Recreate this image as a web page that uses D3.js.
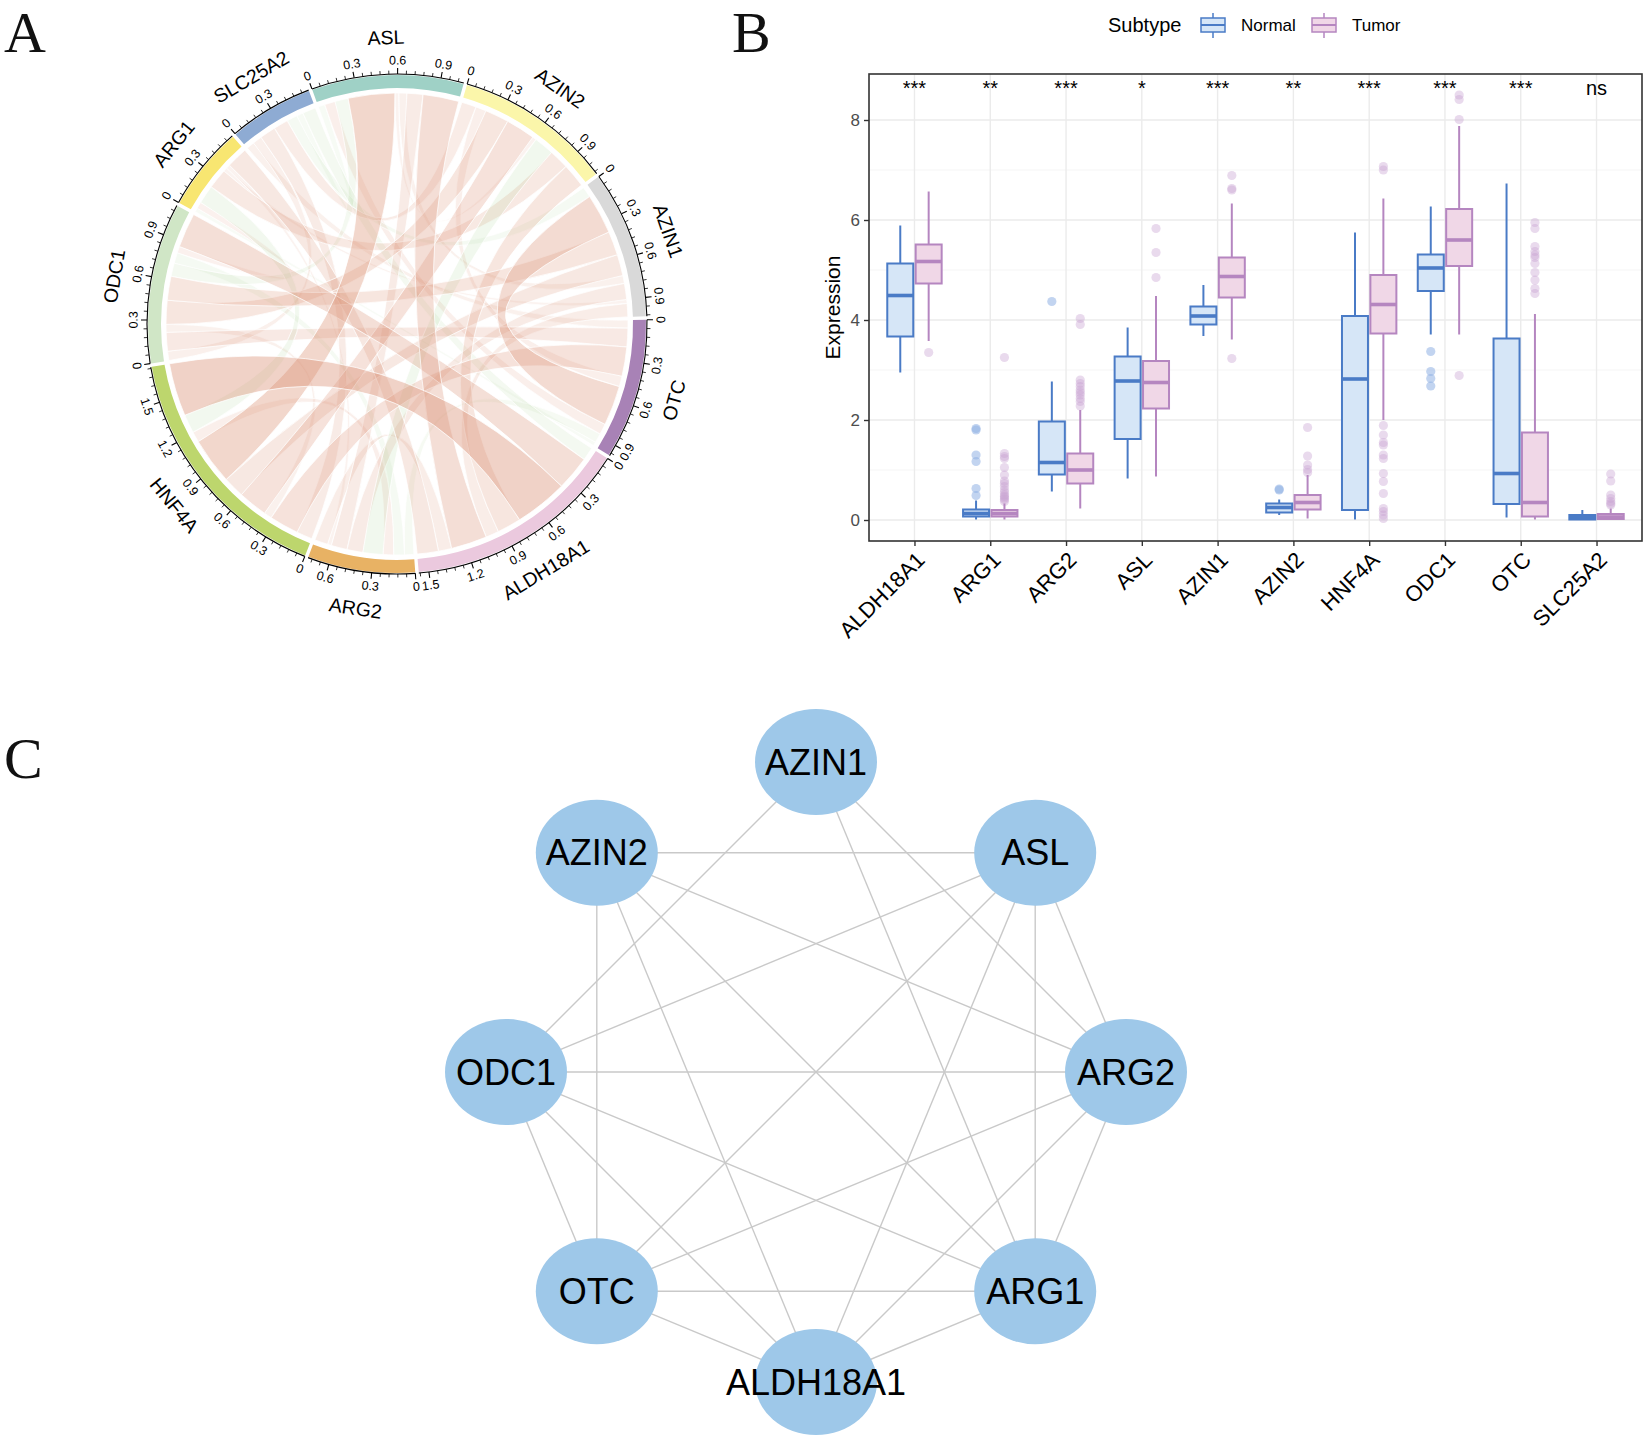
<!DOCTYPE html>
<html><head><meta charset="utf-8">
<script src="https://cdn.jsdelivr.net/npm/d3@7"></script>
<style>
body{margin:0;background:#fff}
svg{display:block}
text{font-family:"Liberation Sans",Arial,sans-serif;fill:#000}
</style></head>
<body><svg id="fig" width="1646" height="1439"></svg>
<script>
// ---------------- Panel A: chord diagram data ----------------
const chordGenes = ["ASL","AZIN2","AZIN1","OTC","ALDH18A1","ARG2","HNF4A","ODC1","ARG1","SLC25A2"];
const chordColors = ["#9fd1c6","#fbf6aa","#d9d9d9","#a882b6","#ebc9de","#e8b264","#bdd66d","#d0e6c6","#f8e671","#8eabd3"];
const linkFrom = ["ASL","ASL","ASL","ASL","ASL","ASL","ASL","ASL",
  "AZIN2","AZIN2","AZIN2","AZIN2","AZIN2","AZIN2","AZIN2",
  "AZIN1","AZIN1","AZIN1","AZIN1","AZIN1","AZIN1","AZIN1",
  "OTC","OTC","OTC","OTC","OTC",
  "ALDH18A1","ALDH18A1","ALDH18A1","ALDH18A1","ALDH18A1",
  "ARG2","ARG2","ARG2","HNF4A","HNF4A","HNF4A","ODC1","ODC1"];
const linkTo = ["HNF4A","ALDH18A1","OTC","ARG2","ODC1","AZIN1","SLC25A2","AZIN2",
  "HNF4A","ODC1","ARG1","ARG2","ALDH18A1","OTC","SLC25A2",
  "OTC","ALDH18A1","ODC1","HNF4A","ARG2","SLC25A2","ARG1",
  "HNF4A","ODC1","ARG2","SLC25A2","ARG1",
  "HNF4A","ODC1","ARG1","SLC25A2","ARG2",
  "HNF4A","ODC1","ARG1","ARG1","SLC25A2","ODC1","ARG1","SLC25A2"];
const linkCorr = [0.35,0.27,0.08,0.12,-0.10,0.06,-0.05,0.03,
  0.22,0.18,0.15,-0.15,0.18,0.08,0.11,
  0.30,0.10,0.18,0.16,0.12,-0.08,0.03,
  0.22,0.14,-0.07,0.06,-0.03,
  0.40,0.26,0.16,-0.10,0.10,
  0.08,-0.08,0.03,-0.14,0.12,0.06,0.05,0.07];

// ---------------- Panel B: boxplot data ----------------
const boxGenes = ["ALDH18A1","ARG1","ARG2","ASL","AZIN1","AZIN2","HNF4A","ODC1","OTC","SLC25A2"];
const subtypes = ["Normal","Tumor"];
// [lower whisker, Q1, median, Q3, upper whisker]
const normalStats = [[2.95,3.67,4.49,5.13,5.89],[0.01,0.07,0.13,0.21,0.39],[0.57,0.91,1.15,1.97,2.77],[0.83,1.62,2.78,3.27,3.85],[3.68,3.91,4.08,4.27,4.70],
  [0.10,0.15,0.25,0.33,0.41],[0.01,0.20,2.82,4.08,5.75],[3.71,4.58,5.04,5.31,6.27],[0.05,0.32,0.93,3.63,6.73],[0.00,0.01,0.05,0.10,0.20]];
const tumorStats = [[3.58,4.73,5.17,5.51,6.57],[0.01,0.07,0.13,0.20,0.33],[0.23,0.73,1.00,1.33,2.20],[0.87,2.23,2.75,3.18,4.48],[3.61,4.45,4.87,5.25,6.33],
  [0.03,0.21,0.35,0.50,0.90],[2.00,3.73,4.31,4.90,6.43],[3.71,5.08,5.60,6.22,7.88],[0.01,0.07,0.35,1.75,4.12],[0.00,0.02,0.06,0.12,0.23]];
const normalOutliers = [[],[1.83,1.80,1.30,1.17,0.63,0.49],[4.37],[],[],[0.62,0.60],[],[3.37,2.97,2.83,2.68],[],[]];
const tumorOutliers = [[3.35],[3.25,1.33,1.27,1.23,1.05,0.90,0.78,0.73,0.67,0.60,0.55,0.50,0.47,0.44,0.41,0.37],
  [4.03,3.91,2.80,2.73,2.67,2.60,2.55,2.50,2.43,2.37,2.28],[5.83,5.35,4.85],[6.89,6.63,6.60,3.23],[1.85,1.28,1.10,1.01,0.95],
  [7.07,7.00,1.89,1.70,1.55,1.50,1.30,1.23,0.93,0.77,0.53,0.23,0.17,0.10,0.03],[8.50,8.41,8.01,2.89],
  [5.95,5.83,5.47,5.37,5.30,5.25,5.13,4.95,4.80,4.63,4.53],[0.92,0.78,0.50,0.43,0.37,0.33,0.30]];
const signifLabels = ["***","**","***","*","***","**","***","***","***","ns"];
const yTicks = [0,2,4,6,8];

// ---------------- Panel C: network data ----------------
const netNodes = ["AZIN1","ASL","ARG2","ARG1","ALDH18A1","OTC","ODC1","AZIN2"];
const netEdges = [["AZIN1","ODC1"],["AZIN1","ARG1"],["AZIN1","ARG2"],
  ["AZIN2","ASL"],["AZIN2","OTC"],["AZIN2","ALDH18A1"],["AZIN2","ARG1"],["AZIN2","ARG2"],
  ["ASL","ODC1"],["ASL","OTC"],["ASL","ALDH18A1"],["ASL","ARG1"],["ASL","ARG2"],
  ["ODC1","ARG2"],["ODC1","OTC"],["ODC1","ALDH18A1"],["ODC1","ARG1"],
  ["ARG2","OTC"],["ARG2","ALDH18A1"],["ARG2","ARG1"],
  ["OTC","ARG1"],["OTC","ALDH18A1"],["ARG1","ALDH18A1"]];

const svg = d3.select("#fig");

// Panel letters
const letters = [["A",4,52],["B",732,52],["C",4,778]];
svg.selectAll("text.panel").data(letters).join("text").attr("class","panel")
  .attr("x",d=>d[1]).attr("y",d=>d[2]).text(d=>d[0])
  .style("font-family","'Liberation Serif','DejaVu Serif',serif").style("font-size","58px").style("fill","#111");

// ======================= Panel A =======================
(function(){
  const cx = 397, cy = 324;
  const rOut = 249, rIn = 236, rLink = 231, rAxis = 250;
  const g = svg.append("g");
  const n = chordGenes.length;
  const idx = Object.fromEntries(chordGenes.map((d,i)=>[d,i]));
  const alpha = chordGenes.slice().sort();
  const links = linkFrom.map((s,k)=>({s:idx[s], t:idx[linkTo[k]], v:linkCorr[k]}));
  const totals = new Array(n).fill(0);
  links.forEach(l=>{ totals[l.s]+=Math.abs(l.v); totals[l.t]+=Math.abs(l.v); });
  const gapDeg = 0.8;
  const unitDeg = (360 - n*gapDeg)/d3.sum(totals);
  let a = -19.9;
  const sectors = chordGenes.map((name,i)=>{ const s=a, e=a+totals[i]*unitDeg; a=e+gapDeg; return {name,i,s,e,total:totals[i]}; });
  const rad = d=>d*Math.PI/180;
  const ends = {};
  sectors.forEach(sec=>{
    const i = sec.i;
    const mine = [];
    links.forEach((l,k)=>{ if(l.s===i) mine.push({k,o:l.t}); else if(l.t===i) mine.push({k,o:l.s}); });
    mine.sort((p,q)=>alpha.indexOf(chordGenes[q.o])-alpha.indexOf(chordGenes[p.o]));
    let pos=0;
    mine.forEach(m=>{ const w=Math.abs(links[m.k].v); ends[m.k+"_"+i]=[sec.s+pos*unitDeg, sec.s+(pos+w)*unitDeg]; pos+=w; });
  });
  const ribbon = d3.ribbon().radius(rLink);
  const order = links.map((l,k)=>k).sort((p,q)=>Math.abs(links[p].v)-Math.abs(links[q].v));
  const op = d3.scaleLinear().domain([0,0.4]).range([0.08,0.4]);
  g.append("g").attr("transform",`translate(${cx},${cy})`).selectAll("path").data(order).join("path")
    .attr("d",k=>{ const l=links[k]; const se=ends[k+"_"+l.s], te=ends[k+"_"+l.t];
      const A={startAngle:rad(se[0]),endAngle:rad(se[1])}, B={startAngle:rad(te[0]),endAngle:rad(te[1])};
      return se[0]<te[0] ? ribbon({source:A,target:B}) : ribbon({source:B,target:A}); })
    .attr("fill",k=>links[k].v>0?"#da8f72":"#a9d394")
    .attr("fill-opacity",k=>links[k].v>0?op(Math.abs(links[k].v)):op(Math.abs(links[k].v))*0.8)
    .attr("stroke","#fff").attr("stroke-width",1).attr("stroke-opacity",0.75);

  const arc = d3.arc().innerRadius(rIn).outerRadius(rOut);
  g.append("g").attr("transform",`translate(${cx},${cy})`).selectAll("path").data(sectors).join("path")
    .attr("d",d=>arc({startAngle:rad(d.s),endAngle:rad(d.e)})).attr("fill",(d,i)=>chordColors[i]);

  const pol = (r,deg)=>[cx + r*Math.sin(rad(deg)), cy - r*Math.cos(rad(deg))];
  const rotOf = deg=>{ const t=((deg%360)+360)%360; return (t>90&&t<270)? t-180 : t; };
  const axG = g.append("g");
  sectors.forEach(sec=>{
    const p = d3.path(); p.arc(cx,cy,rAxis,rad(sec.s)-Math.PI/2,rad(sec.e)-Math.PI/2);
    axG.append("path").attr("d",p.toString()).attr("fill","none").attr("stroke","#000").attr("stroke-width",1.1);
    const scale = d3.scaleLinear().domain([0,sec.total]).range([sec.s,sec.e]);
    const tv = d3.range(0, sec.total+1e-6, 0.06);
    tv.forEach((v,j)=>{
      const major = j%5===0;
      const [x1,y1]=pol(rAxis,scale(v)), [x2,y2]=pol(rAxis+(major?6:3.5),scale(v));
      axG.append("line").attr("x1",x1).attr("y1",y1).attr("x2",x2).attr("y2",y2).attr("stroke","#000").attr("stroke-width",major?1.1:0.8);
      if(major){
        const [tx,ty]=pol(rAxis+13.5,scale(v));
        axG.append("text").attr("transform",`translate(${tx},${ty}) rotate(${rotOf(scale(v))})`)
          .attr("text-anchor","middle").attr("dominant-baseline","central").style("font-size","12.5px")
          .text(String(Math.round(v*10)/10));
      }
    });
    const mid=(sec.s+sec.e)/2; const [lx,ly]=pol(287,mid);
    axG.append("text").attr("transform",`translate(${lx},${ly}) rotate(${rotOf(mid)})`)
      .attr("text-anchor","middle").attr("dominant-baseline","central").style("font-size","19.5px").text(sec.name);
  });
})();

// ======================= Panel B =======================
(function(){
  const L=869, R=1642, T=74, B=541;
  const g = svg.append("g");
  const x = d3.scalePoint().domain(boxGenes).range([L,R]).padding(0.6);
  const y = d3.scaleLinear().domain([-0.42,8.92]).range([B,T]);
  g.append("g").selectAll("line").data([1,3,5,7]).join("line")
    .attr("x1",L).attr("x2",R).attr("y1",d=>y(d)).attr("y2",d=>y(d)).attr("stroke","#f2f2f2").attr("stroke-width",0.8);
  g.append("g").selectAll("line").data(yTicks).join("line")
    .attr("x1",L).attr("x2",R).attr("y1",d=>y(d)).attr("y2",d=>y(d)).attr("stroke","#ebebeb").attr("stroke-width",1.4);
  g.append("g").selectAll("line").data(boxGenes).join("line")
    .attr("x1",d=>x(d)).attr("x2",d=>x(d)).attr("y1",T).attr("y2",B).attr("stroke","#ebebeb").attr("stroke-width",1.4);

  const boxW=26, dodge=14.2;
  const groups=[
    {stats:normalStats,out:normalOutliers,off:-dodge,stroke:"#4a7bc6",fill:"#d6e6f7",ofill:"#90b0e4",oop:0.55},
    {stats:tumorStats,out:tumorOutliers,off:dodge,stroke:"#b586c0",fill:"#f0d7e7",ofill:"#c7a2d3",oop:0.4}];
  groups.forEach(gr=>{
    const gg=g.append("g");
    boxGenes.forEach((gene,i)=>{
      const cxp=x(gene)+gr.off; const s=gr.stats[i];
      gg.selectAll(null).data(gr.out[i]).join("circle").attr("cx",cxp).attr("cy",d=>y(d)).attr("r",4.6)
        .attr("fill",gr.ofill).attr("fill-opacity",gr.oop);
      gg.append("line").attr("x1",cxp).attr("x2",cxp).attr("y1",y(s[4])).attr("y2",y(s[3])).attr("stroke",gr.stroke).attr("stroke-width",2);
      gg.append("line").attr("x1",cxp).attr("x2",cxp).attr("y1",y(s[1])).attr("y2",y(s[0])).attr("stroke",gr.stroke).attr("stroke-width",2);
      gg.append("rect").attr("x",cxp-boxW/2).attr("width",boxW).attr("y",y(s[3])).attr("height",Math.max(0.5,y(s[1])-y(s[3])))
        .attr("fill",gr.fill).attr("stroke",gr.stroke).attr("stroke-width",2);
      gg.append("line").attr("x1",cxp-boxW/2).attr("x2",cxp+boxW/2).attr("y1",y(s[2])).attr("y2",y(s[2])).attr("stroke",gr.stroke).attr("stroke-width",3.6);
    });
  });
  g.append("g").selectAll("text").data(boxGenes).join("text")
    .attr("x",d=>x(d)).attr("y",95).attr("text-anchor","middle").style("font-size","20px").text((d,i)=>signifLabels[i]);
  g.append("rect").attr("x",L).attr("y",T).attr("width",R-L).attr("height",B-T).attr("fill","none").attr("stroke","#333").attr("stroke-width",1.6);
  const ya = g.append("g").attr("transform",`translate(${L},0)`).call(d3.axisLeft(y).tickValues(yTicks).tickSize(5).tickPadding(4).tickFormat(d3.format("d")));
  ya.select(".domain").remove();
  ya.selectAll("line").attr("stroke","#333").attr("stroke-width",1.4);
  ya.selectAll("text").style("font-size","17px").style("fill","#4d4d4d").style("font-family","'Liberation Sans',Arial,sans-serif");
  const xa = g.append("g").attr("transform",`translate(0,${B})`).call(d3.axisBottom(x).tickSize(5).tickPadding(0));
  xa.select(".domain").remove();
  xa.selectAll("line").attr("stroke","#333").attr("stroke-width",1.4);
  xa.selectAll("text").attr("y",0).attr("dy",0).attr("transform","translate(0,9) rotate(-45)")
    .attr("text-anchor","end").attr("dominant-baseline","hanging")
    .style("font-size","22px").style("fill","#000").style("font-family","'Liberation Sans',Arial,sans-serif");
  g.append("text").attr("transform",`translate(840,${(T+B)/2}) rotate(-90)`).attr("text-anchor","middle")
    .style("font-size","21px").text("Expression");
  const lg=g.append("g");
  lg.append("text").attr("x",1108).attr("y",32).style("font-size","20px").text("Subtype");
  const keyX=[1201,1312], labX=[1241,1352];
  subtypes.forEach((s,i)=>{
    const gr=groups[i]; const kx=keyX[i], kc=kx+12;
    lg.append("line").attr("x1",kc).attr("x2",kc).attr("y1",13).attr("y2",38).attr("stroke",gr.stroke).attr("stroke-width",1.5);
    lg.append("rect").attr("x",kx).attr("y",18).attr("width",24).attr("height",14).attr("fill",gr.fill).attr("stroke",gr.stroke).attr("stroke-width",1.5);
    lg.append("line").attr("x1",kx).attr("x2",kx+24).attr("y1",25).attr("y2",25).attr("stroke",gr.stroke).attr("stroke-width",2);
    lg.append("text").attr("x",labX[i]).attr("y",31).style("font-size","17px").text(s);
  });
})();

// ======================= Panel C =======================
(function(){
  const cx=816, cy=1072, rad=310;
  const pos={};
  netNodes.forEach((d,i)=>{ const a=i*2*Math.PI/netNodes.length; pos[d]=[cx+rad*Math.sin(a), cy-rad*Math.cos(a)]; });
  const g=svg.append("g");
  g.append("g").selectAll("line").data(netEdges).join("line")
    .attr("x1",d=>pos[d[0]][0]).attr("y1",d=>pos[d[0]][1]).attr("x2",d=>pos[d[1]][0]).attr("y2",d=>pos[d[1]][1])
    .attr("stroke","#c9c9c9").attr("stroke-width",1.4);
  g.append("g").selectAll("ellipse").data(netNodes).join("ellipse")
    .attr("cx",d=>pos[d][0]).attr("cy",d=>pos[d][1]).attr("rx",61).attr("ry",53).attr("fill","#9ec8e9");
  g.append("g").selectAll("text").data(netNodes).join("text")
    .attr("x",d=>pos[d][0]).attr("y",d=>pos[d][1]).attr("text-anchor","middle").attr("dominant-baseline","central")
    .style("font-size","36px").text(d=>d);
})();
</script>
</body></html>
